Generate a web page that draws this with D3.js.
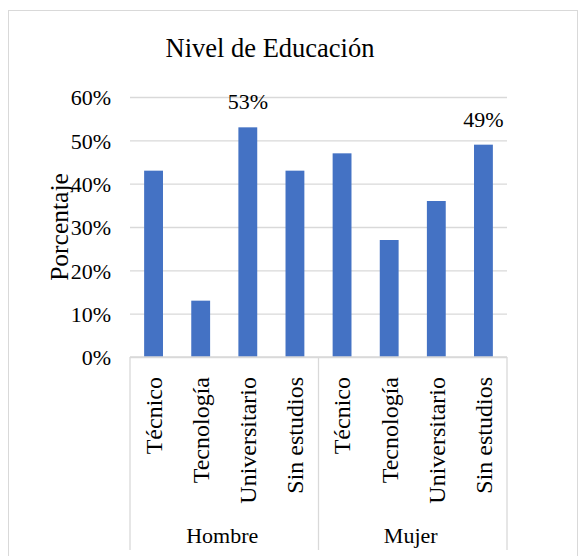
<!DOCTYPE html>
<html>
<head>
<meta charset="utf-8">
<script src="https://cdn.jsdelivr.net/npm/d3@7"></script>
</head>
<body style="margin:0;background:#fff">
<div class="chart"></div>
<script>
// data
const groups = ["Hombre", "Mujer"];
const levels = ["Técnico", "Tecnología", "Universitario", "Sin estudios"];
const hombre = [0.43, 0.13, 0.53, 0.43];
const mujer = [0.47, 0.27, 0.36, 0.49];
const labelled = ["Hombre|Universitario", "Mujer|Sin estudios"];
const yTicks = [0, 0.1, 0.2, 0.3, 0.4, 0.5, 0.6];

// serif text style, set as a plain style attribute
const font = size => "font-family:'Liberation Serif';font-size:" + size + "px";

const rows = [];
groups.forEach((g, gi) => {
  const vals = gi === 0 ? hombre : mujer;
  levels.forEach((l, i) => rows.push({ group: g, level: l, key: g + "|" + l, value: vals[i] }));
});

// margin convention
const margin = { top: 97, right: 72, bottom: 199, left: 130 };
const W = 579, H = 556;
const width = W - margin.left - margin.right,
  height = H - margin.top - margin.bottom;

const root = d3.select(".chart").append("svg")
  .attr("width", W)
  .attr("height", H)
  .attr("font-family", "Liberation Serif");

// chart border
root.append("rect")
  .attr("x", 8.5).attr("y", 10.5)
  .attr("width", 569).attr("height", 560)
  .attr("fill", "none")
  .attr("stroke", "#d9d9d9");

root.append("text")
  .attr("x", 270)
  .attr("y", 57)
  .attr("text-anchor", "middle")
  .attr("style", font(26.5))
  .text("Nivel de Educación");

const svg = root.append("g")
  .attr("transform", "translate(" + margin.left + "," + margin.top + ")");

// scales
const x = d3.scaleBand()
  .domain(rows.map(d => d.key))
  .range([0, width])
  .paddingInner(0.6)
  .paddingOuter(0.3);

const y = d3.scaleLinear()
  .domain([0, 0.6])
  .range([height, 0]);

// gridlines
const yAxis = d3.axisLeft(y)
  .tickValues(yTicks)
  .tickSize(-width)
  .tickFormat(d3.format(".0%"));

svg.append("g")
  .attr("class", "axis y-axis")
  .call(yAxis)
  .attr("font-family", "Liberation Serif")
  .call(g => g.select(".domain").remove())
  .call(g => g.selectAll(".tick line").attr("stroke", "#d9d9d9").attr("stroke-width", 1.3))
  .call(g => g.selectAll(".tick text")
    .attr("x", -19)
    .attr("dy", "0.35em")
    .attr("fill", "#000")
    .attr("style", font(22)));

// bars
svg.selectAll(".bar")
  .data(rows)
  .join("rect")
  .attr("class", "bar")
  .attr("x", d => x(d.key))
  .attr("y", d => y(d.value))
  .attr("width", x.bandwidth())
  .attr("height", d => y(0) - y(d.value))
  .attr("fill", "#4472c4");

// data labels
svg.selectAll(".dlabel")
  .data(rows.filter(d => labelled.includes(d.key)))
  .join("text")
  .attr("class", "dlabel")
  .attr("x", d => x(d.key) + x.bandwidth() / 2)
  .attr("y", d => y(d.value) - 18)
  .attr("text-anchor", "middle")
  .attr("style", font(22))
  .text(d => d3.format(".0%")(d.value));

// category axis (two levels)
const catAxis = svg.append("g")
  .attr("class", "axis x-axis")
  .attr("transform", "translate(0," + height + ")");

catAxis.append("line")
  .attr("x1", 0).attr("x2", width)
  .attr("y1", 0).attr("y2", 0)
  .attr("stroke", "#d9d9d9").attr("stroke-width", 1.3);

const step = x.step();
const seps = d3.range(groups.length + 1).map(i => i * levels.length * step);
catAxis.selectAll(".sep")
  .data(seps)
  .join("line")
  .attr("class", "sep")
  .attr("x1", d => d).attr("x2", d => d)
  .attr("y1", 0).attr("y2", 193)
  .attr("stroke", "#d9d9d9").attr("stroke-width", 1.3);

catAxis.selectAll(".cat")
  .data(rows)
  .join("text")
  .attr("class", "cat")
  .attr("transform", d => "translate(" + (x(d.key) + x.bandwidth() / 2) + ",20) rotate(-90)")
  .attr("text-anchor", "end")
  .attr("dy", "0.35em")
  .attr("style", font(24))
  .text(d => d.level);

catAxis.selectAll(".grp")
  .data(groups)
  .join("text")
  .attr("class", "grp")
  .attr("x", (d, i) => (i + 0.5) * levels.length * step - 2)
  .attr("y", 186)
  .attr("text-anchor", "middle")
  .attr("style", font(22))
  .text(d => d);

// y axis title
root.append("text")
  .attr("transform", "translate(59," + 227 + ") rotate(-90)")
  .attr("text-anchor", "middle")
  .attr("dy", "0.35em")
  .attr("style", font(25.5))
  .text("Porcentaje");
</script>
</body>
</html>
